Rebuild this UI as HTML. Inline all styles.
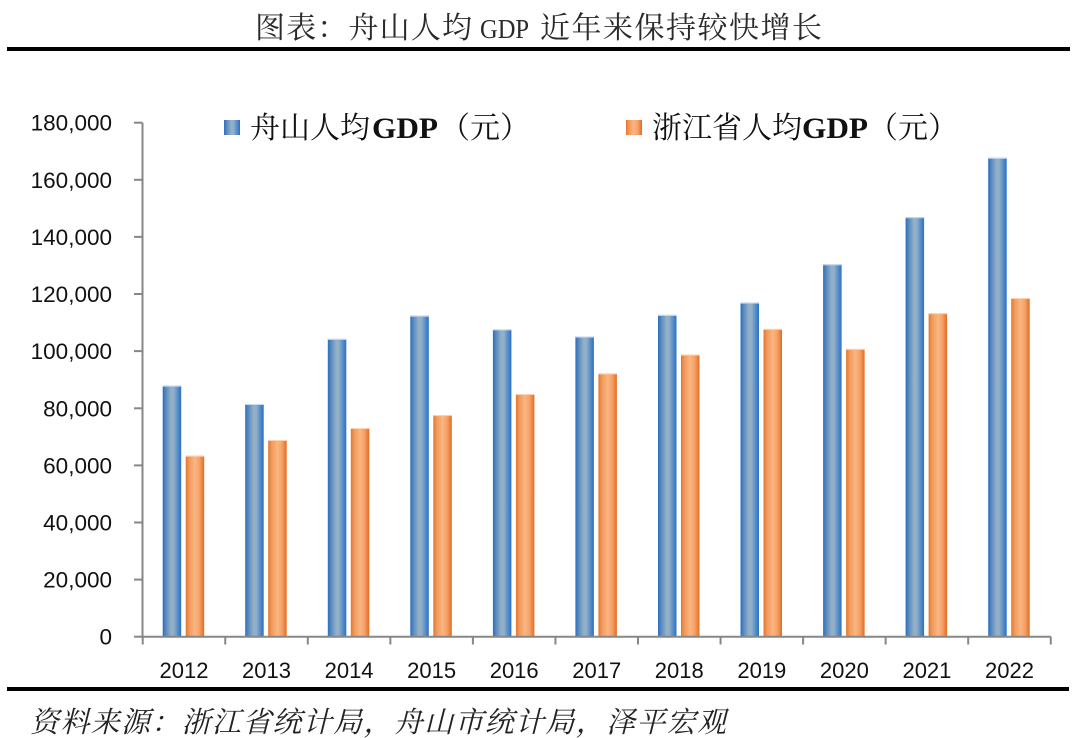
<!DOCTYPE html>
<html>
<head>
<meta charset="utf-8">
<style>
  html,body{margin:0;padding:0;background:#fff;}
  svg{display:block;}
</style>
</head>
<body>
<svg width="1080" height="738" viewBox="0 0 1080 738" xmlns="http://www.w3.org/2000/svg">
  <defs>
    <linearGradient id="gb" x1="0" y1="0" x2="1" y2="0">
      <stop offset="0" stop-color="#2A6CBE"/>
      <stop offset="0.15" stop-color="#5487C0"/>
      <stop offset="0.45" stop-color="#93B0C6"/>
      <stop offset="0.6" stop-color="#90AFC9"/>
      <stop offset="0.85" stop-color="#4E87C8"/>
      <stop offset="1" stop-color="#2A71C6"/>
    </linearGradient>
    <linearGradient id="go" x1="0" y1="0" x2="1" y2="0">
      <stop offset="0" stop-color="#E2772E"/>
      <stop offset="0.2" stop-color="#F29B5F"/>
      <stop offset="0.5" stop-color="#FAB680"/>
      <stop offset="0.75" stop-color="#F4A067"/>
      <stop offset="1" stop-color="#E46B1E"/>
    </linearGradient>
  </defs>

  <rect width="1080" height="738" fill="#fff"/>

  <!-- Title -->
  <text y="38" font-family="'Noto Serif CJK SC', 'Liberation Serif', serif" font-size="30" fill="#2a2a2a">
    <tspan x="255" textLength="217" lengthAdjust="spacing">图表：舟山人均</tspan>
  </text>
  <text x="480" y="38" font-family="'Liberation Serif', serif" font-size="27" fill="#2a2a2a" textLength="49" lengthAdjust="spacingAndGlyphs">GDP</text>
  <text x="540" y="38" font-family="'Noto Serif CJK SC', 'Liberation Serif', serif" font-size="30" fill="#2a2a2a" textLength="282" lengthAdjust="spacing">近年来保持较快增长</text>
  <rect x="7" y="47" width="1063" height="4" fill="#000"/>

  <!-- Legend -->
  <rect x="224" y="120" width="16" height="15" fill="url(#gb)"/>
  <text y="138" font-size="30" fill="#111">
    <tspan x="250" font-family="'Noto Serif CJK SC', serif" textLength="120" lengthAdjust="spacing">舟山人均</tspan>
  </text>
  <text x="372" y="138" font-family="'Liberation Serif', serif" font-weight="bold" font-size="30" fill="#111" textLength="66" lengthAdjust="spacingAndGlyphs">GDP</text>
  <text x="440" y="138" font-family="'Noto Serif CJK SC', serif" font-size="30" fill="#111">（元）</text>

  <rect x="626" y="120" width="16" height="15" fill="url(#go)"/>
  <text x="652" y="138" font-family="'Noto Serif CJK SC', serif" font-size="30" fill="#111" textLength="150" lengthAdjust="spacing">浙江省人均</text>
  <text x="802" y="138" font-family="'Liberation Serif', serif" font-weight="bold" font-size="30" fill="#111" textLength="66" lengthAdjust="spacingAndGlyphs">GDP</text>
  <text x="868" y="138" font-family="'Noto Serif CJK SC', serif" font-size="30" fill="#111">（元）</text>

  <!-- Y axis labels -->
  <g font-family="'Liberation Sans', sans-serif" font-size="22.5" fill="#111" text-anchor="end">
    <text x="112" y="644.7">0</text>
    <text x="112" y="587.6">20,000</text>
    <text x="112" y="530.5">40,000</text>
    <text x="112" y="473.4">60,000</text>
    <text x="112" y="416.3">80,000</text>
    <text x="112" y="359.1">100,000</text>
    <text x="112" y="302.0">120,000</text>
    <text x="112" y="244.9">140,000</text>
    <text x="112" y="187.8">160,000</text>
    <text x="112" y="130.7">180,000</text>
  </g>

  <!-- Bars -->
  <g>
    <rect x="162.7" y="385.7" width="18.5" height="251.0" fill="url(#gb)"/>
    <rect x="245.2" y="404.0" width="18.5" height="232.7" fill="url(#gb)"/>
    <rect x="327.8" y="338.9" width="18.5" height="297.8" fill="url(#gb)"/>
    <rect x="410.3" y="315.7" width="18.5" height="321.0" fill="url(#gb)"/>
    <rect x="492.9" y="329.4" width="18.5" height="307.3" fill="url(#gb)"/>
    <rect x="575.4" y="336.6" width="18.5" height="300.1" fill="url(#gb)"/>
    <rect x="658.0" y="314.9" width="18.5" height="321.8" fill="url(#gb)"/>
    <rect x="740.5" y="302.6" width="18.5" height="334.1" fill="url(#gb)"/>
    <rect x="823.1" y="264.3" width="18.5" height="372.4" fill="url(#gb)"/>
    <rect x="905.6" y="217.2" width="18.5" height="419.5" fill="url(#gb)"/>
    <rect x="988.2" y="157.8" width="18.5" height="478.9" fill="url(#gb)"/>

    <rect x="185.7" y="455.7" width="18.5" height="181.0" fill="url(#go)"/>
    <rect x="268.2" y="440.0" width="18.5" height="196.7" fill="url(#go)"/>
    <rect x="350.8" y="428.0" width="18.5" height="208.7" fill="url(#go)"/>
    <rect x="433.3" y="415.1" width="18.5" height="221.6" fill="url(#go)"/>
    <rect x="515.9" y="394.0" width="18.5" height="242.7" fill="url(#go)"/>
    <rect x="598.4" y="373.4" width="18.5" height="263.3" fill="url(#go)"/>
    <rect x="681.0" y="354.6" width="18.5" height="282.1" fill="url(#go)"/>
    <rect x="763.5" y="328.9" width="18.5" height="307.8" fill="url(#go)"/>
    <rect x="846.1" y="348.9" width="18.5" height="287.8" fill="url(#go)"/>
    <rect x="928.6" y="313.2" width="18.5" height="323.5" fill="url(#go)"/>
    <rect x="1011.2" y="298.0" width="18.5" height="338.7" fill="url(#go)"/>
  </g>
  <!-- bar top highlights -->
  <g fill="#C9DAEE">
    <rect x="162.7" y="385.7" width="18.5" height="1"/>
    <rect x="245.2" y="404.0" width="18.5" height="1"/>
    <rect x="327.8" y="338.9" width="18.5" height="1"/>
    <rect x="410.3" y="315.7" width="18.5" height="1"/>
    <rect x="492.9" y="329.4" width="18.5" height="1"/>
    <rect x="575.4" y="336.6" width="18.5" height="1"/>
    <rect x="658.0" y="314.9" width="18.5" height="1"/>
    <rect x="740.5" y="302.6" width="18.5" height="1"/>
    <rect x="823.1" y="264.3" width="18.5" height="1"/>
    <rect x="905.6" y="217.2" width="18.5" height="1"/>
    <rect x="988.2" y="157.8" width="18.5" height="1"/>
  </g>
  <g fill="#FBD3B4">
    <rect x="185.7" y="455.7" width="18.5" height="1"/>
    <rect x="268.2" y="440.0" width="18.5" height="1"/>
    <rect x="350.8" y="428.0" width="18.5" height="1"/>
    <rect x="433.3" y="415.1" width="18.5" height="1"/>
    <rect x="515.9" y="394.0" width="18.5" height="1"/>
    <rect x="598.4" y="373.4" width="18.5" height="1"/>
    <rect x="681.0" y="354.6" width="18.5" height="1"/>
    <rect x="763.5" y="328.9" width="18.5" height="1"/>
    <rect x="846.1" y="348.9" width="18.5" height="1"/>
    <rect x="928.6" y="313.2" width="18.5" height="1"/>
    <rect x="1011.2" y="298.0" width="18.5" height="1"/>
  </g>

  <!-- Axes -->
  <g stroke="#878787" stroke-width="2" fill="none">
    <line x1="142.5" y1="122.7" x2="142.5" y2="637.7"/>
    <line x1="141.5" y1="636.7" x2="1051" y2="636.7"/>
    <!-- y ticks -->
    <line x1="134" y1="636.7" x2="142.5" y2="636.7"/>
    <line x1="134" y1="579.6" x2="142.5" y2="579.6"/>
    <line x1="134" y1="522.5" x2="142.5" y2="522.5"/>
    <line x1="134" y1="465.4" x2="142.5" y2="465.4"/>
    <line x1="134" y1="408.3" x2="142.5" y2="408.3"/>
    <line x1="134" y1="351.1" x2="142.5" y2="351.1"/>
    <line x1="134" y1="294.0" x2="142.5" y2="294.0"/>
    <line x1="134" y1="236.9" x2="142.5" y2="236.9"/>
    <line x1="134" y1="179.8" x2="142.5" y2="179.8"/>
    <line x1="134" y1="122.7" x2="142.5" y2="122.7"/>
    <!-- x ticks -->
    <line x1="142.7" y1="636.7" x2="142.7" y2="644.5"/>
    <line x1="225.25" y1="636.7" x2="225.25" y2="644.5"/>
    <line x1="307.8" y1="636.7" x2="307.8" y2="644.5"/>
    <line x1="390.35" y1="636.7" x2="390.35" y2="644.5"/>
    <line x1="472.9" y1="636.7" x2="472.9" y2="644.5"/>
    <line x1="555.45" y1="636.7" x2="555.45" y2="644.5"/>
    <line x1="638.0" y1="636.7" x2="638.0" y2="644.5"/>
    <line x1="720.55" y1="636.7" x2="720.55" y2="644.5"/>
    <line x1="803.1" y1="636.7" x2="803.1" y2="644.5"/>
    <line x1="885.65" y1="636.7" x2="885.65" y2="644.5"/>
    <line x1="968.2" y1="636.7" x2="968.2" y2="644.5"/>
    <line x1="1050.75" y1="636.7" x2="1050.75" y2="644.5"/>
  </g>

  <!-- X labels -->
  <g font-family="'Liberation Sans', sans-serif" font-size="22" fill="#111" text-anchor="middle">
    <text x="183.98" y="678">2012</text>
    <text x="266.53" y="678">2013</text>
    <text x="349.08" y="678">2014</text>
    <text x="431.63" y="678">2015</text>
    <text x="514.18" y="678">2016</text>
    <text x="596.73" y="678">2017</text>
    <text x="679.28" y="678">2018</text>
    <text x="761.83" y="678">2019</text>
    <text x="844.38" y="678">2020</text>
    <text x="926.93" y="678">2021</text>
    <text x="1009.48" y="678">2022</text>
  </g>

  <!-- Bottom rule -->
  <rect x="7" y="687" width="1062" height="4" fill="#000"/>

  <!-- Footer -->
  <text x="30" y="732" font-family="'Noto Serif CJK SC', 'Liberation Serif', serif" font-style="italic" font-size="29" fill="#222" textLength="696" lengthAdjust="spacing">资料来源：浙江省统计局，舟山市统计局，泽平宏观</text>
</svg>
</body>
</html>
